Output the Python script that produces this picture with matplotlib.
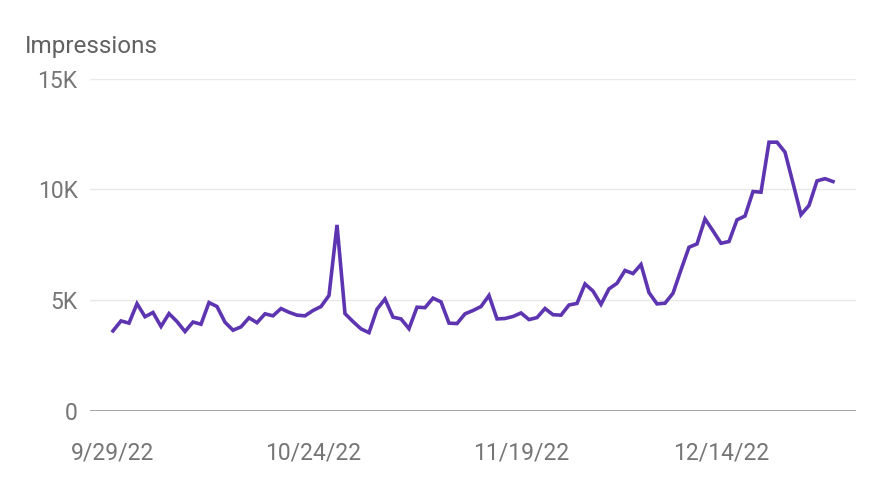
import matplotlib
matplotlib.use("Agg")
import matplotlib.pyplot as plt
import numpy as np
import pandas as pd

start_date = "2022-09-29"
impressions_k = [
    3.60, 4.05, 3.95, 4.83, 4.24, 4.43, 3.80, 4.38, 4.02, 3.57,
    4.00, 3.90, 4.88, 4.70, 3.99, 3.63, 3.78, 4.19, 3.97, 4.37,
    4.28, 4.61, 4.44, 4.31, 4.28, 4.52, 4.70, 5.20, 8.39, 4.38,
    4.02, 3.69, 3.52, 4.58, 5.04, 4.22, 4.14, 3.70, 4.67, 4.65,
    5.08, 4.91, 3.95, 3.93, 4.37, 4.52, 4.70, 5.20, 4.14, 4.16,
    4.25, 4.41, 4.11, 4.20, 4.61, 4.33, 4.31, 4.77, 4.84, 5.72,
    5.40, 4.80, 5.50, 5.75, 6.33, 6.19, 6.60, 5.33, 4.82, 4.85,
    5.30, 6.36, 7.38, 7.53, 8.66, 8.12, 7.56, 7.64, 8.62, 8.79,
    9.90, 9.87, 12.13, 12.13, 11.68, 10.28, 8.85, 9.27, 10.38, 10.48,
    10.35,
]
x_tick_labels = ["9/29/22", "10/24/22", "11/19/22", "12/14/22"]
y_ticks = [0, 5000, 10000, 15000]
y_tick_labels = ["0", "5K", "10K", "15K"]
y_title = "Impressions"

plt.rcParams['font.family'] = ['Roboto', 'DejaVu Sans']

dates = pd.date_range(start_date, periods=len(impressions_k), freq="D")
values = np.array(impressions_k) * 1000
tick_dates = pd.to_datetime(x_tick_labels, format="%m/%d/%y")

fig = plt.figure(figsize=(8.76, 4.90), dpi=100)
ax = fig.add_axes([90/876, 1 - 410.5/490, (856-90)/876, (410.5-78.7)/490])

ax.plot(dates, values, color="#5e35b1", linewidth=2.6, solid_joinstyle="miter", zorder=3)

pad = pd.Timedelta(days=2.875)
ax.set_xlim(dates[0] - pad, dates[-1] + pad)
ax.set_ylim(0, 15000)

ax.set_yticks(y_ticks)
ax.set_yticklabels(y_tick_labels)
ax.set_xticks(tick_dates)
ax.set_xticklabels(x_tick_labels)

for y in y_ticks[1:]:
    ax.axhline(y, color="#e8e8e8", linewidth=1.0, zorder=1)
ax.axhline(0, color="#9e9e9e", linewidth=1.3, zorder=2)

for s in ax.spines.values():
    s.set_visible(False)
ax.tick_params(axis="both", length=0, labelsize=16.5, labelcolor="#757575")
ax.tick_params(axis="y", pad=9)
ax.tick_params(axis="x", pad=22)
ax.set_clip_on(False)

fig.text(25/876, 1 - 46/490, y_title, fontsize=17.5, color="#616161", ha="left", va="center")

fig.savefig("out.png", dpi=100, facecolor="white")
